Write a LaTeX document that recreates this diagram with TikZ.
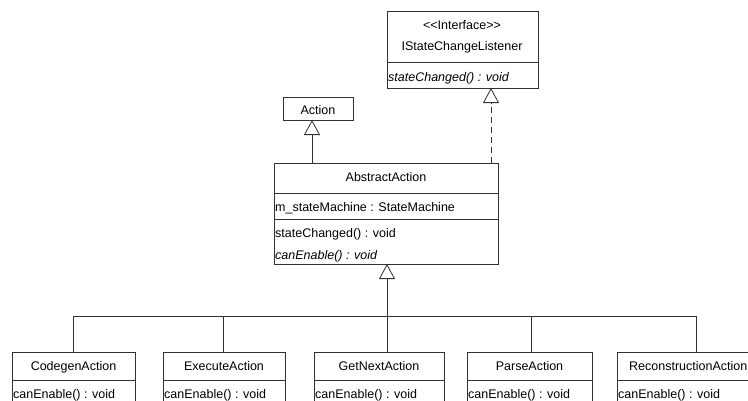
\documentclass[tikz,border=0pt]{standalone}
\usepackage{fontspec}
\setmainfont{Liberation Sans}
\usetikzlibrary{arrows.meta}
\begin{document}
\begin{tikzpicture}[x=1pt,y=-1pt,
  umlbox/.style={draw=black!80, line width=0.8pt, inner sep=0pt, outer sep=0pt, anchor=north west},
  divider/.style={draw=black!80, line width=0.8pt},
  lbl/.style={inner sep=0pt, text height=9pt, text depth=0pt, font=\fontsize{12.5}{15}\selectfont},
  ilbl/.style={lbl, font=\fontsize{12.5}{15}\selectfont\itshape},
  conn/.style={draw=black!80, line width=0.8pt},
  inherit/.style={conn, -{Triangle[open, length=15pt, width=16pt]}},
  realize/.style={inherit, dash pattern=on 6pt off 4pt}]
\useasboundingbox (0,0) rectangle (748,400);
\clip (0,0) rectangle (748,400);

% interface
\node[umlbox, minimum width=151pt, minimum height=77pt] (lst) at (387,11) {};
\draw[divider] (387,62) -- (538,62);
\node[lbl] (lstst) at (462,25) {{<}{<}Interface{>}{>}};
\node[lbl] (lstnm) at (462,46) {IStateChangeListener};
\node[ilbl, anchor=west] (lstop) at (388,77) {stateChanged() : void};

% Action
\node[umlbox, minimum width=70pt, minimum height=23pt] (act) at (283,97) {};
\node[lbl] (actnm) at (318,110) {Action};

% AbstractAction
\node[umlbox, minimum width=224pt, minimum height=101pt] (abs) at (274,163) {};
\draw[divider] (274,193) -- (498,193);
\draw[divider] (274,219) -- (498,219);
\node[lbl] (absnm) at (386,177) {AbstractAction};
\node[lbl, anchor=west] (absat) at (275,207) {m\_stateMachine : StateMachine};
\node[lbl, anchor=west] (absop1) at (275,233) {stateChanged() : void};
\node[ilbl, anchor=west] (absop2) at (275,255) {canEnable() : void};

% concrete actions
\node[umlbox, minimum width=123pt, minimum height=70pt] (cg) at (12,352) {};
\node[umlbox, minimum width=122pt, minimum height=70pt] (ex) at (163,352) {};
\node[umlbox, minimum width=130pt, minimum height=70pt] (gn) at (314,352) {};
\node[umlbox, minimum width=125pt, minimum height=70pt] (pa) at (467,352) {};
\node[umlbox, minimum width=160pt, minimum height=70pt] (re) at (617,352) {};
\foreach \a/\b in {12/135,163/285,314/444,467/592,617/777}
  \draw[divider] (\a,380) -- (\b,380);

\node[lbl] (cgnm) at (73.5,366) {CodegenAction};
\node[lbl] (exnm) at (224,366) {ExecuteAction};
\node[lbl] (gnnm) at (379,366) {GetNextAction};
\node[lbl] (panm) at (529.5,366) {ParseAction};
\node[lbl, anchor=west] (renm) at (629,366) {ReconstructionAction};
\foreach \n/\x in {cgop/13,exop/164,gnop/315,paop/468,reop/618}
  \node[lbl, anchor=west] (\n) at (\x,394) {canEnable() : void};

% relations
\draw[inherit] (abs.north -| 312,0) -- (act.south -| 312,0);
\draw[realize] (abs.north -| 491,0) -- (lst.south -| 491,0);

\coordinate (jn) at (387,316);
\draw[inherit] (jn) -- (abs.south -| jn);
\draw[conn] (cg.north -| 73,0) |- (jn);
\draw[conn] (ex.north -| 223,0) |- (jn);
\draw[conn] (gn.north -| jn) -- (jn);
\draw[conn] (pa.north -| 531,0) |- (jn);
\draw[conn] (re.north -| 696,0) |- (jn);
\end{tikzpicture}
\end{document}
